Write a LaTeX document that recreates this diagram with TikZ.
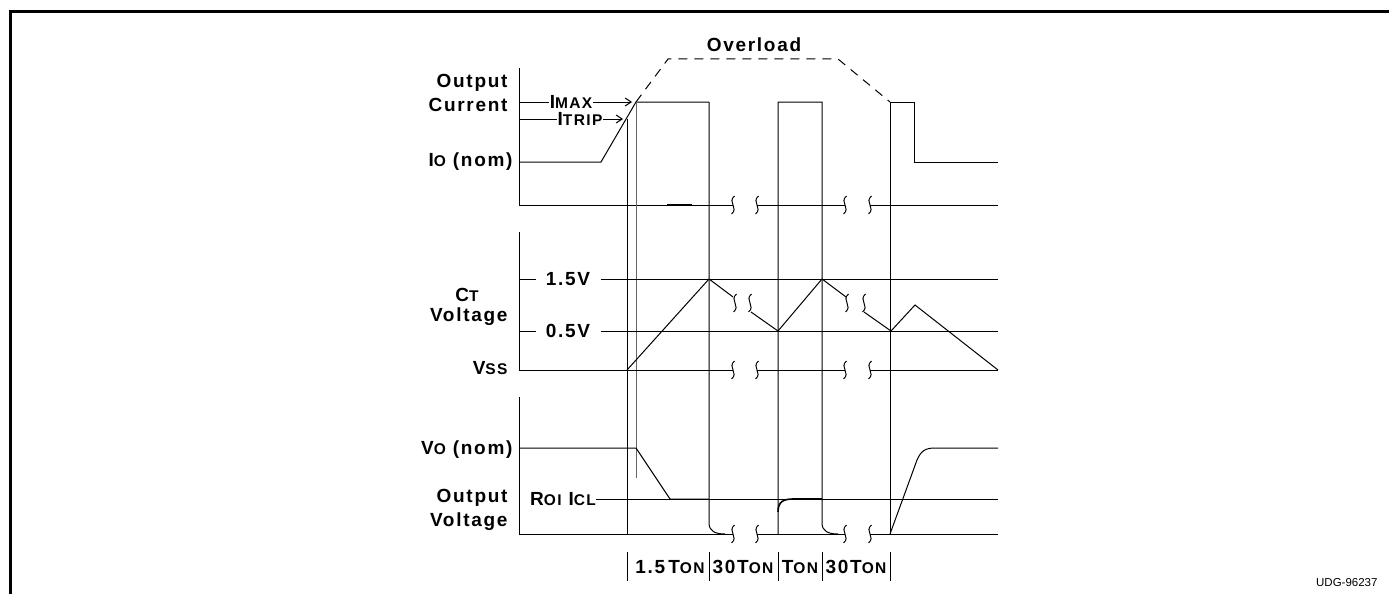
\documentclass[tikz,border=0pt]{standalone}
\usepackage{fontspec}
\setmainfont{Liberation Sans}
\newfontfamily\labfont[LetterSpace=9]{Liberation Sans}
\usetikzlibrary{arrows.meta}
\newcommand{\bigf}{\labfont\bfseries\fontsize{19}{21}\selectfont}
\newcommand{\smf}[1]{{\fontsize{15.5}{17}\selectfont #1}}
\begin{document}
\begin{tikzpicture}[x=1pt,y=-1pt, line width=1pt,
  lbl/.style={font=\bigf, inner sep=0pt},
  arr/.style={-{Straight Barb[length=6pt,width=8pt]}},
  brk/.pic={\draw (1.5,-9) .. controls (-6,-3) and (6,3) .. (-1.5,9);}
]
\useasboundingbox (0,0) rectangle (1389,594);
% frame
\draw[line width=3pt] (10.5,594) -- (10.5,11.5) -- (1389,11.5);

% ---------------- Output current ----------------
\draw (519,68) -- (519,205);
\draw (519,205) -- (733,205);
\draw (757,205) -- (845,205);
\draw (870,205) -- (998,205);
\foreach \bx in {733,757,845,870} \pic at (\bx,205) {brk};
\draw[line width=2.2pt] (667,205) -- (692,205);

\node[lbl, anchor=east] (oc1) at (508,83) {Output};
\node[lbl, anchor=east] (oc2) at (508,105) {Current};
\node[lbl, anchor=east] (ionom) at (513,162) {I\smf{O} (nom)};
\node[lbl] (imax) at (571,102) {I\smf{MAX}};
\node[lbl] (itrip) at (580,119) {I\smf{TRIP}};
\draw (519,102) -- (imax.west);
\draw[arr] (imax.east) -- (632,102);
\draw (519,119) -- (itrip.west);
\draw[arr] (itrip.east) -- (623,119);

\node[lbl] (ovl) at (754,45) {Overload};
\draw[dashed, dash pattern=on 9pt off 7pt] (636,102) -- (668,59) -- (838,59) -- (890,102);

\draw (519,162) -- (601,162) -- (636,102) -- (709,102);
\draw (709,102) -- (709,523) .. controls (709,531) and (715,534) .. (725,534);
\draw (778,534) -- (778,102) -- (822,102) -- (822,523) .. controls (822,531) and (828,534) .. (838,534);
\draw (890,534) -- (890,102) -- (914,102) -- (914,162) -- (998,162);
\draw (627,119) -- (627,534);
\draw[black!60] (636,102) -- (636,478);

% ---------------- CT voltage ----------------
\draw (519,232) -- (519,370);
\node[lbl] (v15) at (568,279) {1.5V};
\node[lbl] (v05) at (568,331) {0.5V};
\draw (519,279) -- (536,279);
\draw (601,279) -- (998,279);
\draw (519,331) -- (536,331);
\draw (601,331) -- (998,331);
\draw (519,370) -- (733,370);
\draw (757,370) -- (845,370);
\draw (870,370) -- (998,370);
\foreach \bx in {733,757,845,870} \pic at (\bx,370) {brk};
\node[lbl] (ct) at (467,295) {C\smf{T}};
\node[lbl, anchor=east] (ctv) at (508,317) {Voltage};
\node[lbl, anchor=east] (vss) at (508,368) {V\smf{SS}};

\draw (627,370) -- (709,279) -- (733,297);
\pic at (735,303) {brk};
\pic at (750,303) {brk};
\draw (751,312) -- (778,331) -- (822,279) -- (846,297);
\pic at (847,303) {brk};
\pic at (864,303) {brk};
\draw (864,312) -- (891,331) -- (915,305) -- (998,370);

% ---------------- Output voltage ----------------
\draw (519,397) -- (519,534);
\node[lbl, anchor=east] (vonom) at (513,450) {V\smf{O} (nom)};
\node[lbl, anchor=east] (ov1) at (508,498) {Output};
\node[lbl, anchor=east] (ov2) at (508,522) {Voltage};
\node[lbl] (rol) at (563,499) {R\smf{OI} I\smf{CL}};
\draw (rol.east) -- (998,499);
\draw (519,448) -- (636,448) -- (670,499) -- (709,499);
\draw (519,534) -- (733,534);
\draw (757,534) -- (845,534);
\draw (870,534) -- (998,534);
\foreach \bx in {733,757,845,870} \pic at (\bx,534) {brk};
\draw[line width=1.6pt] (778,512) .. controls (778,502) and (783,499) .. (793,499) -- (822,499);
\draw (890,534) -- (917,460) .. controls (921,451) and (925,448) .. (935,448) -- (998,448);

% ---------------- time labels ----------------
\foreach \tx in {627,709,778,822,890} \draw (\tx,552) -- (\tx,581);
\node[lbl] (t1) at (670,567) {1.5\,T\smf{ON}};
\node[lbl] (t2) at (743,567) {30T\smf{ON}};
\node[lbl] (t3) at (800,567) {T\smf{ON}};
\node[lbl] (t4) at (856,567) {30T\smf{ON}};

\node[font=\fontsize{11.5}{13}\selectfont, anchor=east, inner sep=0pt] (udg) at (1378,583) {UDG-96237};
\end{tikzpicture}
\end{document}
